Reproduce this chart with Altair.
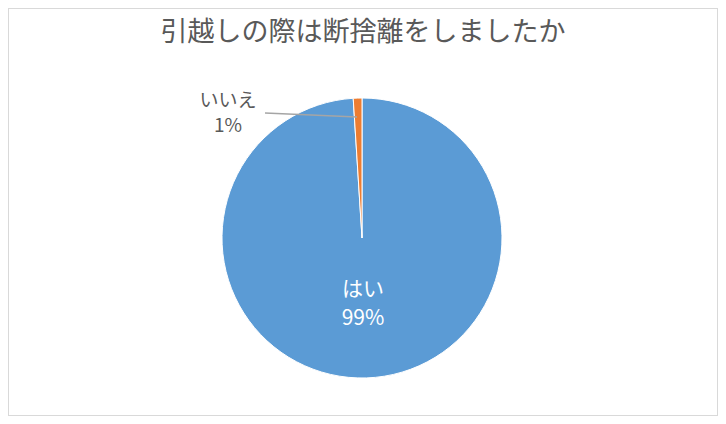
import altair as alt
import pandas as pd

title = "引越しの際は断捨離をしましたか"
categories = ["はい", "いいえ"]
values = [99, 1]
colors = ["#5B9BD5", "#ED7D31"]

df = pd.DataFrame({
    "cat": categories,
    "val": values,
    "order": list(range(len(categories))),
    "label": [f"{c}\n{v}%" for c, v in zip(categories, values)],
})

CX, CY, R = 354, 230, 140
FONT = "Noto Sans CJK JP"

base = alt.Chart(df)

pie = base.mark_arc(stroke="white", strokeWidth=1).encode(
    theta=alt.Theta("val:Q", stack=True),
    order=alt.Order("order:Q"),
    color=alt.Color("cat:N", scale=alt.Scale(domain=categories, range=colors), legend=None),
    x=alt.value(CX), y=alt.value(CY),
    radius=alt.value(R),
)

inside = base.transform_filter(alt.datum.cat == "はい").mark_text(
    font=FONT, fontSize=21, color="white", lineBreak="\n", lineHeight=29, baseline="middle"
).encode(
    text="label:N",
    x=alt.value(CX + 1), y=alt.value(CY + 52),
)

outside = base.transform_filter(alt.datum.cat == "いいえ").mark_text(
    font=FONT, fontSize=19, color="#595959", lineBreak="\n", lineHeight=25, baseline="middle"
).encode(
    text="label:N",
    x=alt.value(220), y=alt.value(93),
)

leader = base.transform_filter(alt.datum.cat == "いいえ").mark_rule(
    color="#A5A5A5", strokeWidth=1.5
).encode(
    x=alt.value(257), y=alt.value(105), x2=alt.value(349), y2=alt.value(109),
)

ttl = alt.Chart(pd.DataFrame({"t": [title]})).mark_text(
    font=FONT, fontSize=27, color="#595959", baseline="middle"
).encode(
    text="t:N", x=alt.value(CX + 1), y=alt.value(25),
)

chart = alt.layer(pie, inside, outside, leader, ttl).properties(
    width=710, height=408,
    autosize=alt.AutoSizeParams(type="fit", contains="padding"),
    padding=0,
).configure_view(stroke="#D9D9D9", strokeWidth=2)

chart.save("out.html", embed_options={"renderer": "svg", "actions": False})
